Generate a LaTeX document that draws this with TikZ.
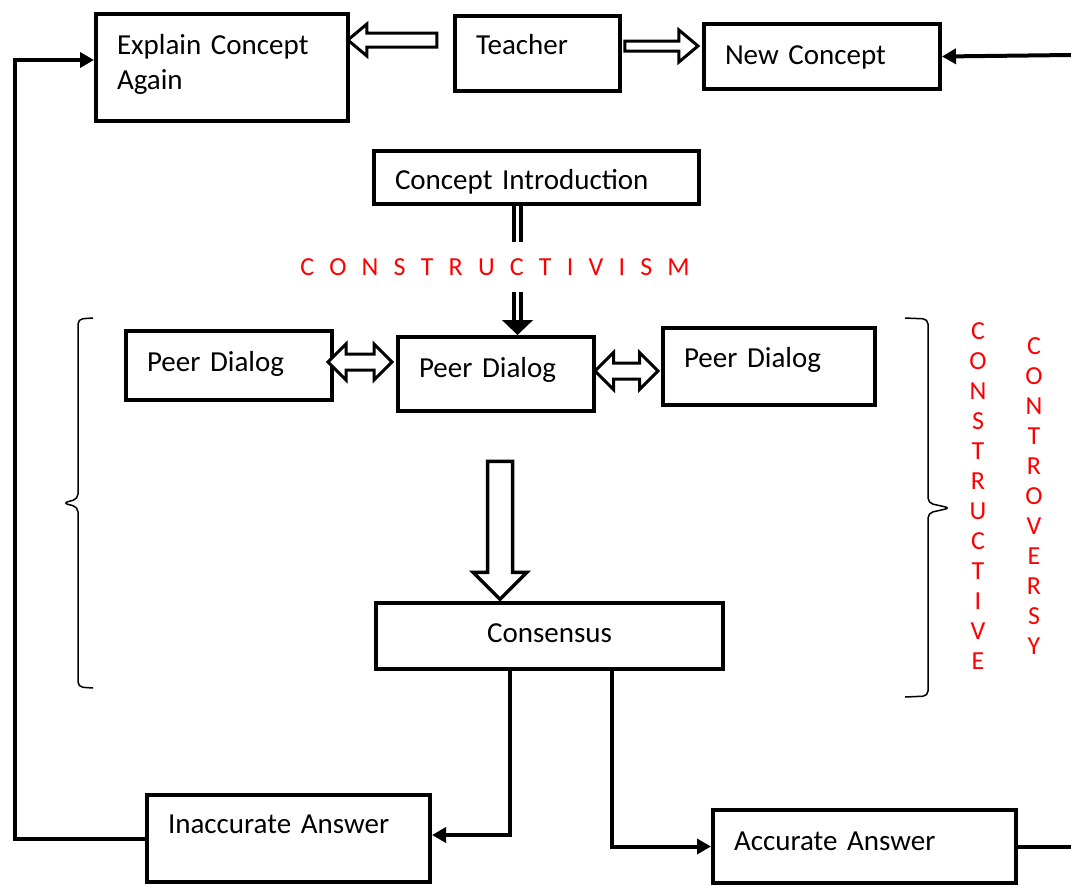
\documentclass[tikz,border=0pt]{standalone}
\usepackage{fontspec}
\setmainfont{Carlito}
\usetikzlibrary{arrows.meta,shapes.arrows}

\begin{document}
\begin{tikzpicture}[
    x=1pt, y=-1pt,
    box/.style={draw, line width=4pt, anchor=north west, inner xsep=21pt, inner ysep=0pt, align=left, font=\fontsize{29}{35}\selectfont},
    hol/.style={draw, line width=3pt, fill=white, single arrow, single arrow head indent=0pt, single arrow tip angle=80, inner xsep=0pt},
    dhol/.style={draw, line width=3pt, fill=white, double arrow, double arrow head indent=0pt, double arrow tip angle=90, inner xsep=0pt},
    link/.style={line width=4pt, -{Triangle[length=14pt,width=15pt]}},
    dbl/.style={double, line width=4pt, double distance=3pt},
    brc/.style={line width=1.5pt, rounded corners=5pt},
    rtxt/.style={text=red, inner sep=0pt, font=\fontsize{26}{30}\selectfont}
]
\useasboundingbox (0,0) rectangle (1071,884);

% Top row
\node[box, text width=210pt, text height=40pt, text depth=67pt] (expl) at (94,12) {Explain Concept\\Again};
\node[box, text width=123pt, text height=38pt, text depth=37pt] (teach) at (453,14) {Teacher};
\node[box, text width=194pt, text height=40pt, text depth=25pt] (newc) at (702,22) {New Concept};

\node[hol, shape border rotate=180, inner ysep=5.5pt, minimum height=89pt, single arrow head extend=9pt] (a1) at (396.5,40) {};
\node[hol, inner ysep=3.5pt, minimum height=73pt, single arrow head extend=11pt] (a2) at (658.5,46) {};

% Introduction
\node[box, text width=283pt, text height=38pt, text depth=15pt] (intro) at (372,149) {Concept Introduction};
\node[rtxt] (cvism) at (495,267) {\spaceskip=15.2pt C O N S T R U C T I V I S M};

\coordinate (c1) at (517.5,242);
\coordinate (c2) at (517.5,292);
\coordinate (c3) at (517.5,320);
\draw[dbl] (intro.south -| c1) -- (c1);
\draw[dbl] (c2) -- (c3);

% Peer dialogs
\node[box, text width=164pt, text height=40pt, text depth=29pt] (pdl) at (124,329) {Peer Dialog};
\node[box, text width=154pt, text height=40pt, text depth=34pt] (pdm) at (396,335) {Peer Dialog};
\node[box, text width=170pt, text height=39pt, text depth=38pt] (pdr) at (661,326) {Peer Dialog};

\draw[-{Triangle[length=15pt,width=31pt]}, line width=1pt] (c3) -- (pdm.north -| c3);

\node[dhol, inner ysep=6.5pt, minimum height=64pt, double arrow head extend=10pt] (a3) at (360,362) {};
\node[dhol, inner ysep=6.5pt, minimum height=63pt, double arrow head extend=10.5pt] (a4) at (626.5,371) {};

\node[hol, shape border rotate=270, line width=3.5pt, inner sep=10.75pt, minimum height=138pt, single arrow head extend=14.5pt, single arrow tip angle=90] (a5) at (500,524) {};

% Consensus
\node[box, align=center, text width=305pt, text height=39pt, text depth=27pt] (cons) at (374,601) {Consensus};

% braces
\draw[brc] (93,318) -- (78,319) -- (78,499) -- (63,503) -- (78,507) -- (78,687) -- (93,688);
\draw[brc] (905,318) -- (928,319) -- (928,503) -- (950,508) -- (928,513) -- (928,696) -- (905,697);

\node[rtxt, align=center, anchor=north] (cvtive) at (978,322) {C\\O\\N\\S\\T\\R\\U\\C\\T\\I\\V\\E};
\node[rtxt, align=center, anchor=north] (cvrsy) at (1034,337) {C\\O\\N\\T\\R\\O\\V\\E\\R\\S\\Y};

% Answers
\node[box, text width=241pt, text height=38pt, text depth=49pt] (inacc) at (145,793) {Inaccurate Answer};
\node[box, text width=261pt, text height=40pt, text depth=33pt] (acc) at (711,808) {Accurate Answer};

\draw[link] ([xshift=-39.5pt]cons.south) |- ([yshift=3.5pt]inacc.east);
\draw[link] ([xshift=62.5pt]cons.south) |- (acc.west);

% Loops back
\coordinate (lt) at (15,60);
\coordinate (rt) at (1071,55);
\coordinate (rb) at (1071,840);
\draw[link] (inacc.west) -| (lt) -- (lt -| expl.west);
\draw[link] (rt) -- (newc.east);
\draw[line width=4pt] (acc.east) -- (acc.east -| rb);
\end{tikzpicture}
\end{document}
